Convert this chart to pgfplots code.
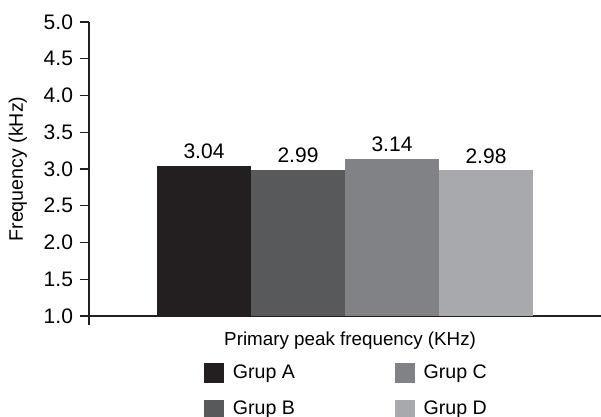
\documentclass[border=0pt]{standalone}
\usepackage{fontspec}
\setmainfont{Liberation Sans}
\usepackage{pgfplots}
\pgfplotsset{compat=1.18}

\definecolor{grpA}{HTML}{231F20}
\definecolor{grpB}{HTML}{58595B}
\definecolor{grpC}{HTML}{808285}
\definecolor{grpD}{HTML}{A7A9AC}
\definecolor{axcol}{HTML}{231F20}

\pgfplotsset{
  sq legend/.style={legend image code/.code={\fill[##1] (0pt,-4.9pt) rectangle (9.8pt,4.9pt);}},
}

\begin{document}
\begin{tikzpicture}
\begin{axis}[
  name=ax,
  scale only axis,
  width=256pt, height=147pt,
  ybar=0pt, bar width=47pt,
  xmin=-1, xmax=1,
  ymin=1, ymax=5,
  ytick={1,1.5,...,5},
  xtick={-1}, xticklabels={},
  axis x line=bottom, axis y line=left,
  axis line style={-, draw=axcol, line width=0.7pt},
  tick style={draw=axcol, line width=0.7pt},
  tick align=outside, major tick length=4.5pt,
  font=\fontsize{10}{12}\selectfont,
  /pgf/number format/assume math mode=true,
  yticklabel style={font=\fontsize{10.5}{12}\selectfont, /pgf/number format/.cd, fixed, fixed zerofill, precision=1},
  ylabel={Frequency (kHz)},
  ylabel style={at={(axis description cs:-0.139,0.5)}, anchor=center, font=\fontsize{9.8}{12}\selectfont},
  xlabel={Primary peak frequency (KHz)},
  xlabel style={at={(axis description cs:0.51,-0.085)}, anchor=center, font=\fontsize{9.4}{12}\selectfont},
  nodes near coords,
  nodes near coords style={font=\fontsize{10.5}{12}\selectfont, /pgf/number format/.cd, fixed, fixed zerofill, precision=2},
  legend columns=2, transpose legend,
  legend style={at={(axis description cs:0.505,-0.15)}, anchor=north, draw=none, inner sep=0pt,
    font=\fontsize{9.8}{12}\selectfont, row sep=6pt,
    /tikz/every odd column/.append style={column sep=2.5pt},
    /tikz/every even column/.append style={column sep=48pt}},
]
\addplot[fill=grpA, draw=none, sq legend] coordinates {(0,3.04)};
\addlegendentry{Grup A}
\addplot[fill=grpB, draw=none, sq legend] coordinates {(0,2.99)};
\addlegendentry{Grup B}
\addplot[fill=grpC, draw=none, sq legend] coordinates {(0,3.14)};
\addlegendentry{Grup C}
\addplot[fill=grpD, draw=none, sq legend] coordinates {(0,2.98)};
\addlegendentry{Grup D}
\end{axis}
\pgfresetboundingbox
\path[use as bounding box] ([xshift=-44.5pt,yshift=-50.5pt]ax.south west) rectangle ([yshift=11pt]ax.north east);
\end{tikzpicture}
\end{document}
